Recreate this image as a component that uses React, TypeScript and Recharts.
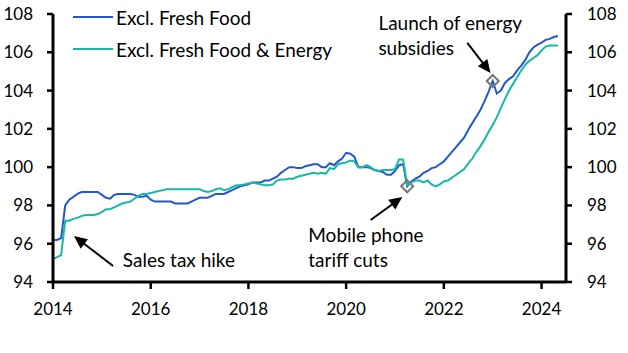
import React from "react";
import {
  LineChart,
  Line,
  XAxis,
  YAxis,
  ReferenceDot,
  ReferenceLine,
} from "recharts";

const startYear = 2014;
const xTicks = [2014, 2016, 2018, 2020, 2022, 2024];
const yTicks = [94, 96, 98, 100, 102, 104, 106, 108];

// Monthly index values, Jan 2014 – May 2024
const exclFreshFood = [
  96.2, 96.2, 96.3, 98.0, 98.3, 98.45, 98.6, 98.7, 98.7, 98.7, 98.7, 98.7,
  98.55, 98.4, 98.35, 98.55, 98.6, 98.6, 98.6, 98.6, 98.55, 98.45, 98.45, 98.5,
  98.3, 98.2, 98.2, 98.2, 98.2, 98.2, 98.1, 98.1, 98.1, 98.1, 98.2, 98.3,
  98.4, 98.4, 98.4, 98.5, 98.6, 98.6, 98.6, 98.7, 98.8, 98.9, 99.0, 99.05,
  99.1, 99.2, 99.2, 99.2, 99.3, 99.3, 99.4, 99.5, 99.7, 99.85, 100.0, 100.0,
  99.95, 99.95, 100.05, 100.1, 100.15, 100.15, 100.0, 100.0, 100.2, 100.1, 100.3, 100.45,
  100.75, 100.7, 100.55, 100.0, 100.0, 100.0, 99.95, 99.85, 99.8, 99.75, 99.6, 99.6,
  99.8, 100.1, 100.15, 99.0, 99.25, 99.4, 99.5, 99.7, 99.8, 99.95, 100.0, 100.15,
  100.3, 100.55, 100.8, 101.05, 101.3, 101.55, 101.95, 102.3, 102.65, 103.0, 103.45, 103.95,
  104.5, 103.85, 104.0, 104.4, 104.6, 104.75, 105.05, 105.3, 105.6, 106.0, 106.25, 106.4,
  106.5, 106.65, 106.7, 106.8, 106.85,
];
const exclFreshFoodEnergy = [
  95.2, 95.3, 95.4, 97.2, 97.2, 97.3, 97.35, 97.45, 97.5, 97.5, 97.5, 97.55,
  97.65, 97.8, 97.8, 97.9, 98.0, 98.1, 98.15, 98.2, 98.35, 98.5, 98.6, 98.6,
  98.65, 98.7, 98.75, 98.8, 98.85, 98.85, 98.85, 98.85, 98.85, 98.85, 98.85, 98.85,
  98.85, 98.75, 98.7, 98.75, 98.85, 98.9, 98.8, 98.85, 98.95, 99.05, 99.05, 99.1,
  99.15, 99.2, 99.15, 99.1, 99.05, 99.05, 99.1, 99.3, 99.35, 99.35, 99.4, 99.4,
  99.5, 99.55, 99.6, 99.65, 99.7, 99.65, 99.7, 99.65, 99.95, 99.9, 100.15, 100.2,
  100.25, 100.35, 100.3, 100.0, 100.0, 100.1, 100.0, 99.85, 99.8, 99.85, 99.85, 99.85,
  99.9, 100.4, 100.4, 99.05, 99.2, 99.3, 99.3, 99.2, 99.3, 99.1, 99.0, 99.1,
  99.25, 99.3, 99.45, 99.6, 99.75, 99.9, 100.2, 100.45, 100.8, 101.1, 101.45, 101.85,
  102.2, 102.6, 103.1, 103.55, 104.0, 104.35, 104.7, 105.05, 105.35, 105.55, 105.7, 105.85,
  106.1, 106.3, 106.35, 106.35, 106.35,
];

const seriesNames = ["Excl. Fresh Food", "Excl. Fresh Food & Energy"];
const seriesColors = ["#2457CE", "#17B8A6"];

// Annotation markers (data coordinates)
const markers = [
  { x: 2021.25, y: 99.0 },
  { x: 2023.0, y: 104.5 },
];
// Arrows: tail -> head (data coordinates)
const arrows = [
  { from: { x: 2015.23, y: 94.84 }, to: { x: 2014.43, y: 96.4 } },
  { from: { x: 2020.5, y: 97.24 }, to: { x: 2021.15, y: 98.44 } },
  { from: { x: 2022.48, y: 106.49 }, to: { x: 2022.955, y: 104.92 } },
];
// Annotation texts (anchor = left edge, first line centre)
const notes = [
  { x: 2015.43, y: 95.19, lines: ["Sales tax hike"] },
  { x: 2019.225, y: 96.46, lines: ["Mobile phone", "tariff cuts"] },
  { x: 2020.66, y: 107.58, lines: ["Launch of energy", "subsidies"] },
];

const data = exclFreshFood.map((v, i) => ({
  t: startYear + i / 12,
  a: v,
  b: exclFreshFoodEnergy[i],
}));

const FONT = "Lato, 'Open Sans', sans-serif";
const FS = 17;
const FS_TEXT = 19;

const Arrow = (props: any) => {
  const { x1, y1, x2, y2 } = props;
  const dx = x2 - x1;
  const dy = y2 - y1;
  const len = Math.hypot(dx, dy) || 1;
  const ux = dx / len;
  const uy = dy / len;
  const headLen = 13;
  const headW = 6;
  const bx = x2 - ux * headLen;
  const by = y2 - uy * headLen;
  const pts = `${x2},${y2} ${bx - uy * headW},${by + ux * headW} ${bx + uy * headW},${by - ux * headW}`;
  return (
    <g>
      <line x1={x1} y1={y1} x2={bx + ux * 2} y2={by + uy * 2} stroke="#000" strokeWidth={2} />
      <polygon points={pts} fill="#000" />
    </g>
  );
};

const Diamond = (props: any) => {
  const { cx, cy } = props;
  const r = 6;
  return (
    <polygon
      points={`${cx},${cy - r} ${cx + r},${cy} ${cx},${cy + r} ${cx - r},${cy}`}
      fill="none"
      stroke="#777"
      strokeWidth={2}
    />
  );
};

const makeNote = (lines: string[]) => (props: any) => {
  const { cx, cy } = props;
  return (
    <text fontFamily={FONT} fontSize={FS_TEXT} fill="#000">
      {lines.map((l, i) => (
        <tspan key={i} x={cx} y={cy + i * 25} dominantBaseline="central">
          {l}
        </tspan>
      ))}
    </text>
  );
};

const tickStyle = { fontFamily: FONT, fontSize: FS, fill: "#000" };

export default function App() {
  return (
    <div style={{ position: "absolute", left: 0, top: 0, width: 628, height: 353, background: "#fff" }}>
      <LineChart
        width={628}
        height={353}
        data={data}
        margin={{ top: 14, right: 0, bottom: 41, left: 0 }}
      >
        <XAxis
          dataKey="t"
          type="number"
          domain={[2014, 2024.5]}
          ticks={xTicks}
          allowDataOverflow
          height={30}
          tick={tickStyle}
          tickSize={7}
          tickMargin={14}
          axisLine={{ stroke: "#000", strokeWidth: 3 }}
          tickLine={{ stroke: "#000", strokeWidth: 2.5 }}
        />
        <YAxis
          yAxisId="left"
          orientation="left"
          domain={[94, 108]}
          ticks={yTicks}
          allowDataOverflow
          width={53}
          tick={tickStyle}
          tickSize={6}
          tickMargin={14}
          axisLine={{ stroke: "#000", strokeWidth: 3 }}
          tickLine={{ stroke: "#000", strokeWidth: 2.5 }}
        />
        <YAxis
          yAxisId="right"
          orientation="right"
          domain={[94, 108]}
          ticks={yTicks}
          allowDataOverflow
          width={62}
          tick={{ ...tickStyle, textAnchor: "start" }}
          tickSize={6}
          tickMargin={15}
          axisLine={{ stroke: "#000", strokeWidth: 3 }}
          tickLine={{ stroke: "#000", strokeWidth: 2.5 }}
        />
        <Line
          yAxisId="left"
          dataKey="a"
          name={seriesNames[0]}
          stroke={seriesColors[0]}
          strokeWidth={2}
          dot={false}
          isAnimationActive={false}
        />
        <Line
          yAxisId="left"
          dataKey="b"
          name={seriesNames[1]}
          stroke={seriesColors[1]}
          strokeWidth={2}
          dot={false}
          isAnimationActive={false}
        />
        {arrows.map((a, i) => (
          <ReferenceLine
            key={"ar" + i}
            yAxisId="left"
            segment={[a.from, a.to]}
            ifOverflow="visible"
            shape={Arrow}
          />
        ))}
        {markers.map((m, i) => (
          <ReferenceDot
            key={"mk" + i}
            yAxisId="left"
            x={m.x}
            y={m.y}
            r={6}
            ifOverflow="visible"
            shape={Diamond}
          />
        ))}
        {notes.map((n, i) => (
          <ReferenceDot
            key={"nt" + i}
            yAxisId="left"
            x={n.x}
            y={n.y}
            r={1}
            ifOverflow="visible"
            shape={makeNote(n.lines)}
          />
        ))}
      </LineChart>
      <div style={{ position: "absolute", left: 73, top: 0, fontFamily: FONT, fontSize: FS_TEXT }}>
        {seriesNames.map((n, i) => (
          <div
            key={n}
            style={{ position: "absolute", left: 0, top: 17 + i * 32 - 12, height: 24, display: "flex", alignItems: "center", whiteSpace: "nowrap" }}
          >
            <div style={{ width: 40, height: 2, background: seriesColors[i], marginRight: 3 }} />
            <span>{n}</span>
          </div>
        ))}
      </div>
    </div>
  );
}
